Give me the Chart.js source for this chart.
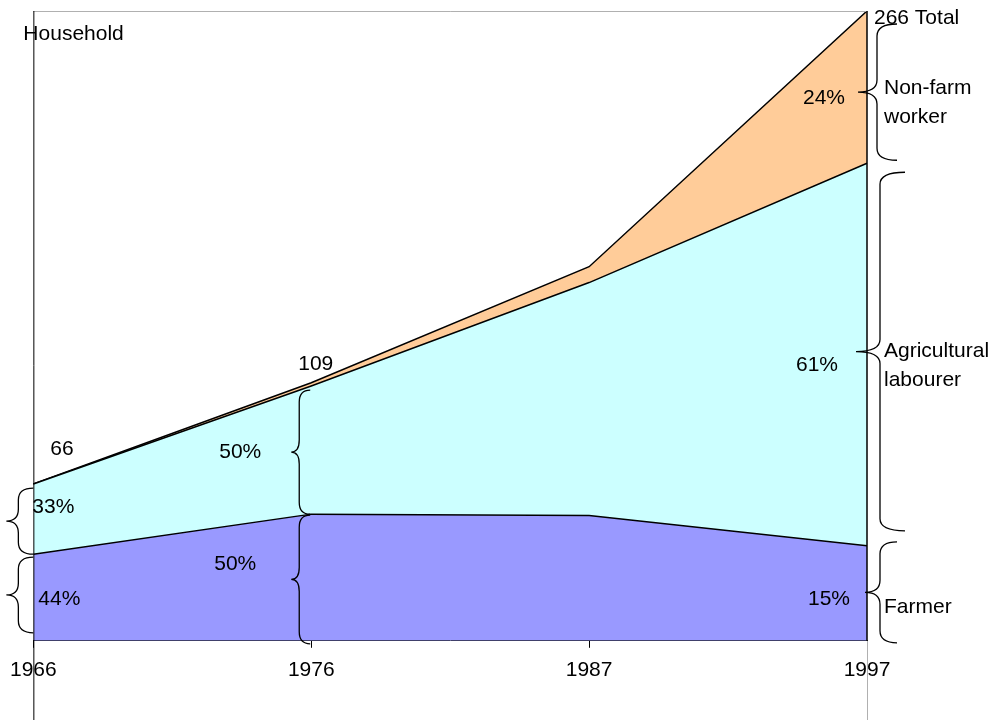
<!DOCTYPE html>
<html>
<head>
<meta charset="utf-8">
<script src="https://cdn.jsdelivr.net/npm/chart.js@4/dist/chart.umd.min.js"></script>
<style>
  body { margin: 0; padding: 0; background: #fff; }
  #wrap { width: 1000px; height: 720px; }
</style>
</head>
<body>
<div id="wrap"><canvas id="chart" width="1000" height="720"></canvas></div>
<script>
// values (households, stacked)
const years = ['1966', '1976', '1987', '1997'];
const farmer = [36.6, 53.5, 52.9, 40.1];
const agricultural = [29.6, 54.1, 98.4, 161.6];
const nonFarm = [0, 1.4, 6.7, 64.3];
const totalLabels = ['66', '109', null, '266 Total'];
const farmerPct = ['44%', '50%', null, '15%'];
const agriPct = ['33%', '50%', null, '61%'];
const nonFarmPct = [null, null, null, '24%'];
const yMax = 266;

const FONT = '21px "Liberation Sans", Arial, sans-serif';

// curly brace "{" : stem at xs, ends curl to xe, tip points to xt
function drawBrace(ctx, xe, xs, xt, y1, y2) {
  const ym = (y1 + y2) / 2;
  const r = Math.min(12, (y2 - y1) / 5);
  ctx.beginPath();
  ctx.moveTo(xe, y1);
  ctx.quadraticCurveTo(xs, y1, xs, y1 + r);
  ctx.lineTo(xs, ym - r);
  ctx.quadraticCurveTo(xs, ym, xt, ym);
  ctx.quadraticCurveTo(xs, ym, xs, ym + r);
  ctx.lineTo(xs, y2 - r);
  ctx.quadraticCurveTo(xs, y2, xe, y2);
  ctx.stroke();
}

const decorations = {
  id: 'decorations',
  afterDatasetsDraw(chart) {
    const ctx = chart.ctx;
    const x = chart.scales.x, y = chart.scales.y;
    const area = chart.chartArea;
    const px = i => x.getPixelForValue(i);
    const fTop = farmer.map(v => y.getPixelForValue(v));
    const aTop = farmer.map((v, i) => y.getPixelForValue(v + agricultural[i]));
    const tTop = farmer.map((v, i) => y.getPixelForValue(v + agricultural[i] + nonFarm[i]));
    const base = y.getPixelForValue(0);
    const n = years.length - 1;

    ctx.save();
    // frame lines
    ctx.lineWidth = 1;
    ctx.strokeStyle = '#b0b0b0';
    ctx.beginPath();
    ctx.moveTo(area.left, area.top + 0.5);
    ctx.lineTo(px(n), area.top + 0.5);
    ctx.moveTo(px(n) + 0.5, base);
    ctx.lineTo(px(n) + 0.5, chart.height);
    ctx.stroke();
    ctx.strokeStyle = '#000';
    ctx.lineWidth = 1.5;
    ctx.beginPath();
    ctx.moveTo(px(n), tTop[n]);
    ctx.lineTo(px(n), base);
    ctx.stroke();
    ctx.lineWidth = 1;
    ctx.beginPath();
    ctx.moveTo(area.left + 0.5, area.top);
    ctx.lineTo(area.left + 0.5, chart.height);
    ctx.stroke();

    // braces
    ctx.lineWidth = 1.3;
    ctx.strokeStyle = '#000';
    const x0 = px(0), x1 = px(1), x3 = px(n);
    drawBrace(ctx, x0, x0 - 15, x0 - 27, aTop[0] + 4, fTop[0]);
    drawBrace(ctx, x0, x0 - 15, x0 - 27, fTop[0] + 3, base - 8);
    drawBrace(ctx, x1 - 1, x1 - 12, x1 - 20, aTop[1] + 4, fTop[1]);
    drawBrace(ctx, x1 - 1, x1 - 12, x1 - 20, fTop[1] + 1, base + 3);
    drawBrace(ctx, x3 + 30, x3 + 10, x3 - 9, tTop[n] + 13, aTop[n] - 3);
    drawBrace(ctx, x3 + 38, x3 + 13, x3 - 11, aTop[n] + 9, fTop[n] - 15);
    drawBrace(ctx, x3 + 30, x3 + 13, x3 - 2, fTop[n] - 4, base + 2);

    // text
    ctx.fillStyle = '#000';
    ctx.font = FONT;
    ctx.textBaseline = 'middle';
    ctx.textAlign = 'left';
    ctx.fillText('Household', area.left - 10, area.top + 23);
    ctx.fillText(totalLabels[0], x0 + 17, tTop[0] - 35);
    ctx.fillText(totalLabels[1], x1 - 13, tTop[1] - 19);
    ctx.fillText(totalLabels[3], x3 + 7, tTop[n] + 7);
    ctx.fillText(agriPct[0], x0 - 1, (aTop[0] + fTop[0]) / 2 - 12);
    ctx.fillText(farmerPct[0], x0 + 5, (fTop[0] + base) / 2 + 2);
    ctx.textAlign = 'right';
    ctx.fillText(agriPct[1], x1 - 50, (aTop[1] + fTop[1]) / 2 + 2);
    ctx.fillText(farmerPct[1], x1 - 55, (fTop[1] + base) / 2 - 13);
    ctx.fillText(nonFarmPct[n], x3 - 22, (tTop[n] + aTop[n]) / 2 + 11);
    ctx.fillText(agriPct[n], x3 - 29, (aTop[n] + fTop[n]) / 2 + 11);
    ctx.fillText(farmerPct[n], x3 - 17, (fTop[n] + base) / 2 + 6);
    ctx.textAlign = 'left';
    ctx.fillText('Non-farm', x3 + 17, 88);
    ctx.fillText('worker', x3 + 17, 117);
    ctx.fillText('Agricultural', x3 + 17, 351);
    ctx.fillText('labourer', x3 + 17, 380);
    ctx.fillText('Farmer', x3 + 17, 607);
    ctx.restore();
  }
};

new Chart(document.getElementById('chart'), {
  type: 'line',
  data: {
    labels: years,
    datasets: [
      { label: 'Farmer', data: farmer, backgroundColor: '#9999ff', fill: 'origin' },
      { label: 'Agricultural labourer', data: agricultural, backgroundColor: '#ccffff', fill: '-1' },
      { label: 'Non-farm worker', data: nonFarm, backgroundColor: '#ffcc99', fill: '-1' }
    ]
  },
  options: {
    responsive: false,
    animation: false,
    layout: { padding: { left: 32, right: 133, top: 11, bottom: 27 } },
    elements: {
      line: { borderColor: '#000', borderWidth: 1.5, tension: 0 },
      point: { radius: 0 }
    },
    plugins: { legend: { display: false }, tooltip: { enabled: false } },
    scales: {
      x: {
        type: 'category',
        offset: false,
        grid: { drawOnChartArea: false, drawTicks: true, tickLength: 7, color: '#000' },
        border: { display: true, color: '#000', width: 1 },
        ticks: {
          color: '#000',
          padding: 10,
          maxRotation: 0,
          font: { family: '"Liberation Sans", Arial, sans-serif', size: 21 }
        }
      },
      y: {
        display: false,
        stacked: true,
        min: 0,
        max: yMax
      }
    }
  },
  plugins: [decorations]
});
</script>
</body>
</html>
